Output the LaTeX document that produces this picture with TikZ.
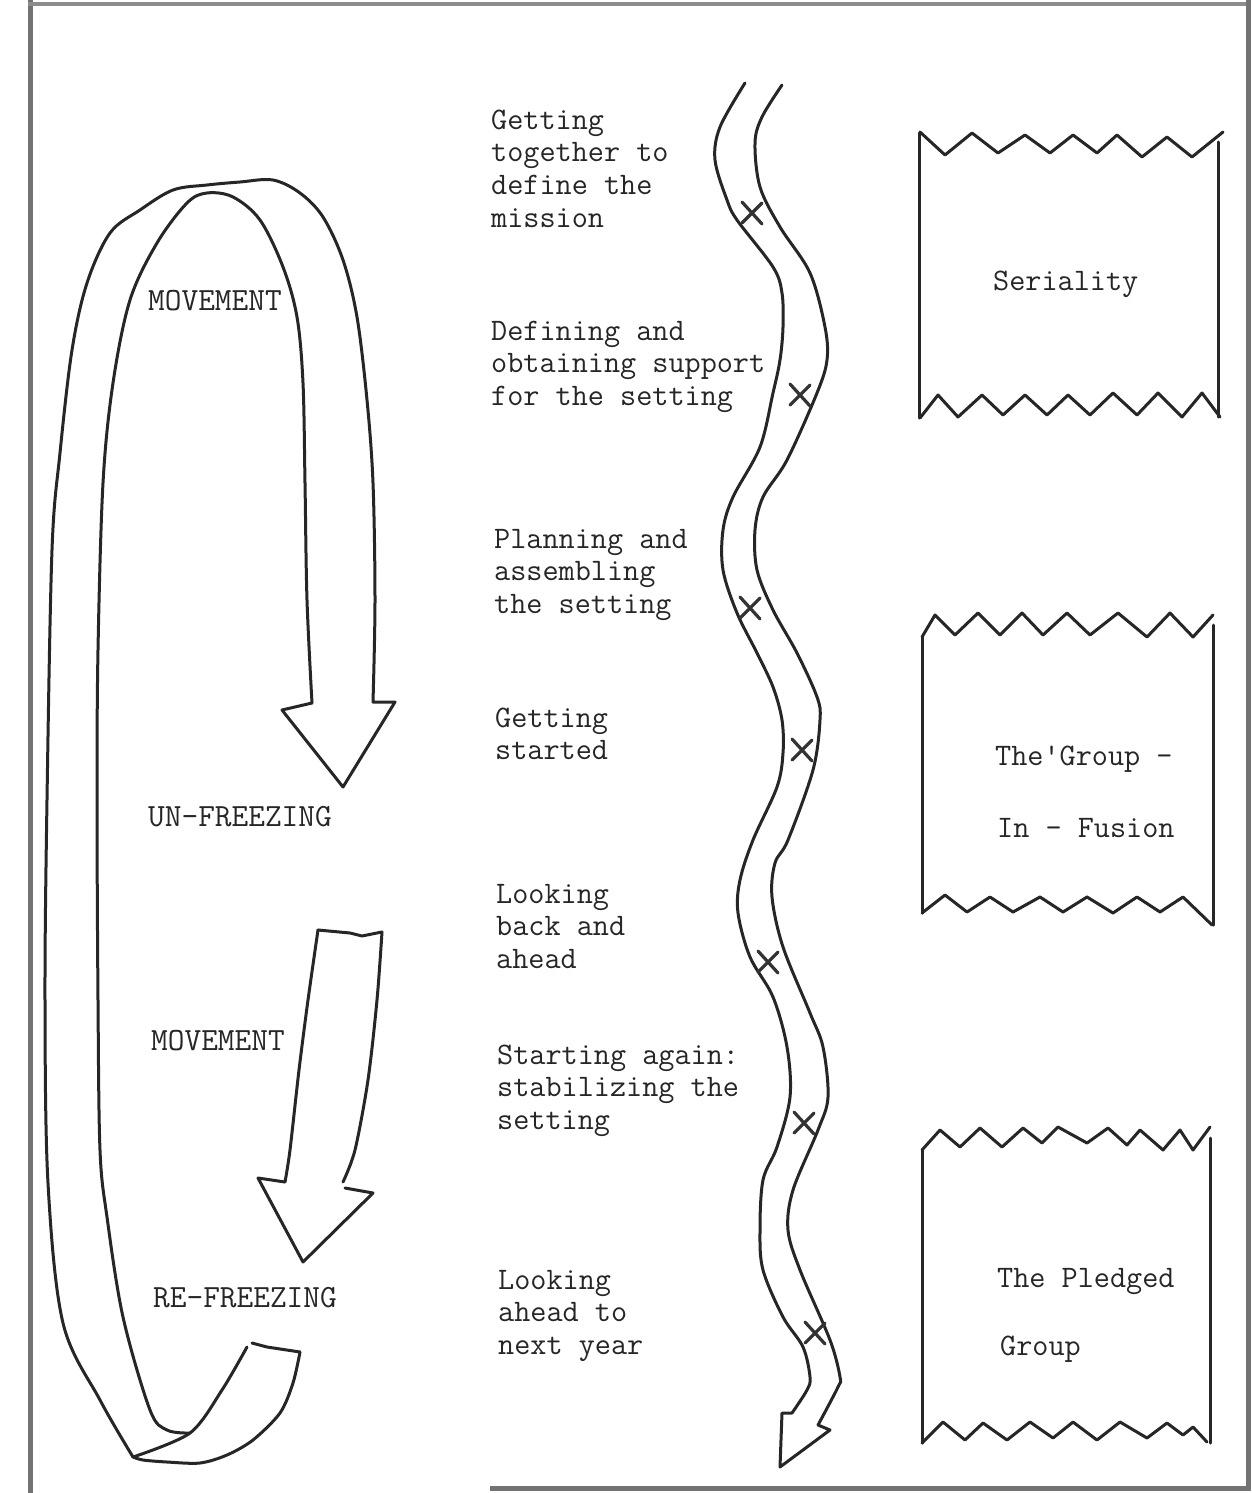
\documentclass[tikz,border=0pt]{standalone}
\newcommand{\mlines}[1]{\begin{tabular}[t]{@{}l@{}}#1\end{tabular}}
\begin{document}
\begin{tikzpicture}[x=1pt,y=-1pt,
  ink/.style={draw=black!85, line width=3pt, line join=round, line cap=round},
  framel/.style={draw=black!55, line width=5pt},
  xmark/.style={draw=black!80, line width=3.2pt, line cap=round},
  txt/.style={font=\fontsize{31.3}{32.8}\selectfont\ttfamily, inner sep=0pt, anchor=base west, text=black!85},
  lab/.style={font=\fontsize{32.4}{33}\selectfont\ttfamily, inner sep=0pt, anchor=base west, text=black!85},
  xm/.pic={\draw[xmark] (-10,-11)--(10,11) (-10,10)--(10,-10);}]
\useasboundingbox (0,0) rectangle (1251,1493);
\fill[white] (0,0) rectangle (1251,1493);

% frame
\draw[framel] (30,0) -- (30,1493);
\draw[framel, draw=black!45, line width=4pt] (28,4) -- (1251,4);
\draw[framel] (1248,0) -- (1248,1489);
\draw[framel] (490,1488) -- (1251,1488);

% big loop arrow
\draw[ink] plot[smooth, tension=0.55] coordinates {(133,1457) (100,1400) (63,1323) (48,1183) (45,1000) (47,800) (52,550) (60,453) (72,350) (87,283) (110,233) (140,210) (173,190) (207,185) (240,182) (273,180) (300,193) (323,217) (343,260) (357,317) (367,400) (373,483) (375,600) (373,702)}
  -- (395,702) -- (343,787) -- (282,710) -- (312,703);
\draw[ink] plot[smooth, tension=0.55] coordinates {(312,703) (307,600) (305,483) (303,383) (297,317) (283,267) (260,220) (233,197) (207,193) (187,203) (157,243) (130,300) (113,383) (103,483) (98,650) (97,800) (98,1000) (100,1150) (107,1217) (123,1317) (150,1410) (167,1430) (190,1433)};
\draw[ink] plot[smooth, tension=0.5] coordinates {(247,1347) (222,1390) (190,1433) (133,1457)};
\draw[ink] (252,1343) -- (267,1347) -- (300,1352);
\draw[ink] plot[smooth, tension=0.5] coordinates {(300,1352) (293,1383) (280,1413) (253,1440) (227,1455) (200,1463) (167,1462) (143,1460) (133,1457)};

% second arrow
\draw[ink] (318,930) -- (350,933) -- (362,936) -- (382,932);
\draw[ink] plot[smooth, tension=0.5] coordinates {(382,932) (377,1000) (368,1080) (355,1150) (343,1182)};
\draw[ink] (345,1188) -- (373,1193) -- (303,1262) -- (258,1178) -- (285,1182);
\draw[ink] plot[smooth, tension=0.5] coordinates {(285,1182) (290,1150) (299,1070) (308,1000) (318,930)};

% river
\draw[ink] plot[smooth, tension=0.55] coordinates {(745,83) (720,127) (715,160) (727,200) (737,220) (773,267) (782,293) (783,327) (780,360) (773,393) (760,447) (733,497) (723,530) (723,570) (737,613) (757,653) (773,687) (782,720) (783,753) (777,787) (753,840) (740,880) (738,913) (750,957) (773,997) (787,1047) (790,1097) (777,1147) (763,1180) (760,1230) (763,1270) (783,1317) (803,1347) (810,1377) (807,1390) (792,1413)}
  -- (782,1413) -- (780,1467) -- (830,1430) -- (818,1425);
\draw[ink] plot[smooth, tension=0.55] coordinates {(782,85) (762,117) (755,143) (760,187) (780,227) (810,273) (825,327) (827,360) (817,393) (787,460) (763,497) (755,530) (757,570) (773,610) (797,653) (817,697) (820,720) (813,770) (788,840) (775,863) (772,897) (783,947) (810,1013) (823,1047) (828,1097) (818,1130) (793,1190) (788,1230) (800,1270) (830,1340) (840,1377) (838,1387) (818,1425)};

% X marks
\pic at (752,213) {xm};
\pic at (800,395) {xm};
\pic at (750,608) {xm};
\pic at (802,750) {xm};
\pic at (768,962) {xm};
\pic at (804,1123) {xm};
\pic at (815,1333) {xm};

% boxes
\draw[ink] (919,418) -- (919,133);
\draw[ink] (920,132) -- (945,155) -- (972,133) -- (998,153) -- (1025,135) -- (1050,153) -- (1073,135) -- (1097,153) -- (1117,135) -- (1142,157) -- (1167,137) -- (1192,157) -- (1223,132);
\draw[ink] (1218,142) -- (1218,417);
\draw[ink] (1220,417) -- (1202,393) -- (1182,417) -- (1158,393) -- (1137,415) -- (1113,393) -- (1090,415) -- (1068,395) -- (1047,415) -- (1025,395) -- (1003,415) -- (982,395) -- (958,417) -- (938,395) -- (920,418);

\draw[ink] (922,913) -- (922,637);
\draw[ink] (922,637) -- (935,615) -- (955,635) -- (978,613) -- (1000,635) -- (1022,613) -- (1043,635) -- (1067,613) -- (1090,635) -- (1118,613) -- (1147,637) -- (1170,613) -- (1193,637) -- (1213,615);
\draw[ink] (1213,625) -- (1213,925);
\draw[ink] (1212,925) -- (1183,897) -- (1160,912) -- (1137,897) -- (1113,913) -- (1087,897) -- (1063,912) -- (1040,897) -- (1013,912) -- (990,897) -- (967,912) -- (945,895) -- (922,913);

\draw[ink] (922,1443) -- (922,1150);
\draw[ink] (922,1150) -- (940,1130) -- (960,1147) -- (980,1128) -- (1002,1147) -- (1023,1128) -- (1042,1143) -- (1058,1127) -- (1087,1143) -- (1108,1128) -- (1127,1145) -- (1140,1130) -- (1163,1150) -- (1180,1130) -- (1193,1150) -- (1210,1127);
\draw[ink] (1210,1138) -- (1210,1443);
\draw[ink] (1207,1442) -- (1193,1427) -- (1183,1435) -- (1167,1423) -- (1147,1438) -- (1120,1422) -- (1097,1440) -- (1073,1422) -- (1053,1438) -- (1030,1422) -- (1007,1440) -- (983,1423) -- (965,1440) -- (943,1422) -- (922,1443);

% left labels
\node[lab] (mov1) at (148,310) {MOVEMENT};
\node[lab] (unf) at (148,826) {UN-FREEZING};
\node[lab] (mov2) at (151,1050) {MOVEMENT};
\node[lab] (ref) at (153,1307) {RE-FREEZING};

% middle texts
\node[txt] (s1) at (491,129) {\mlines{Getting\\together to\\define the\\mission}};
\node[txt] (s2) at (491,340) {\mlines{Defining and\\obtaining support\\for the setting}};
\node[txt] (s3) at (494,548) {\mlines{Planning and\\assembling\\the setting}};
\node[txt] (s4) at (495,727) {\mlines{Getting\\started}};
\node[txt] (s5) at (496,903) {\mlines{Looking\\back and\\ahead}};
\node[txt] (s6) at (497,1064) {\mlines{Starting again:\\stabilizing the\\setting}};
\node[txt] (s7) at (498,1289) {\mlines{Looking\\ahead to\\next year}};

% box texts
\node[txt] (b1) at (993,290) {Seriality};
\node[txt] (b2a) at (995,765) {The'Group -};
\node[txt] (b2b) at (997,837) {In - Fusion};
\node[txt] (b3a) at (997,1287) {The Pledged};
\node[txt] (b3b) at (1000,1355) {Group};
\end{tikzpicture}
\end{document}
